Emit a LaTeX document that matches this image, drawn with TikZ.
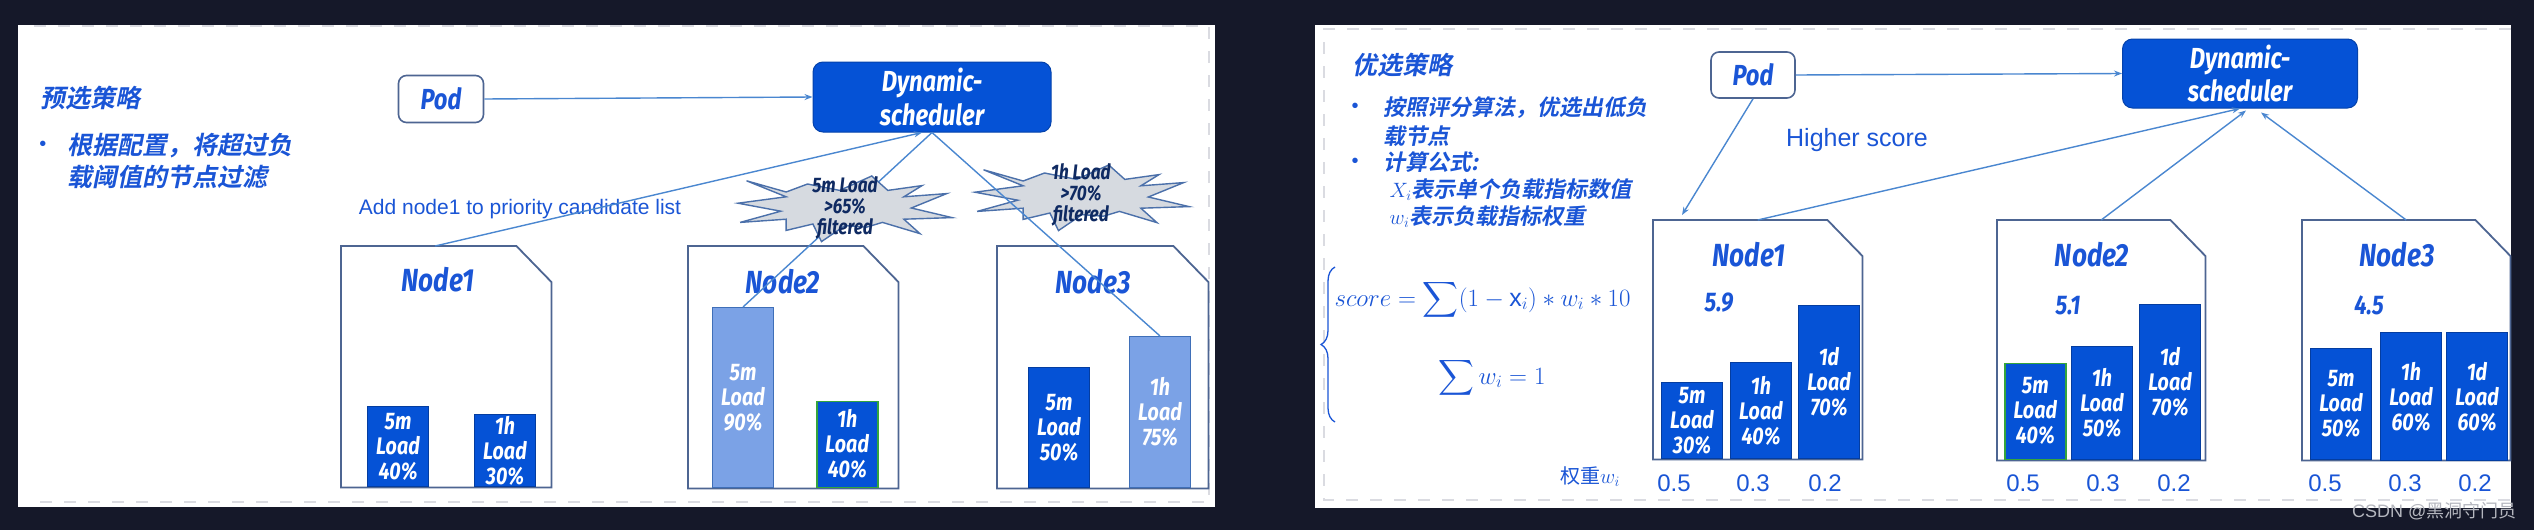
\documentclass[tikz,border=0pt]{standalone}
\usepackage{amsmath}
\usepackage{fontspec}
\setmainfont{Liberation Sans}
\newfontfamily\disp{Fira Sans}[FakeStretch=0.82]
\newfontfamily\cjk{Noto Sans CJK SC}
\newfontfamily\cjkb{Noto Sans CJK SC Bold}[FakeSlant=0.2]
\usetikzlibrary{arrows.meta,decorations.pathreplacing}

\definecolor{bgdark}{HTML}{151829}
\definecolor{dashgray}{HTML}{DADBE1}
\definecolor{textblue}{HTML}{1A55D6}
\definecolor{barblue}{HTML}{0552D6}
\definecolor{lightbar}{HTML}{7BA2E6}
\definecolor{lightbarline}{HTML}{3F6FB8}
\definecolor{boxline}{HTML}{4D6592}
\definecolor{linkblue}{HTML}{4A87D0}
\definecolor{hotgreen}{HTML}{35A53C}
\definecolor{starfill}{HTML}{D6DAE0}
\definecolor{starline}{HTML}{4B70AA}
\definecolor{starink}{HTML}{0F2A62}
\definecolor{markgray}{HTML}{B4B6BE}

\tikzset{
  dashrule/.style={draw=dashgray, line width=1.8pt, dash pattern=on 12pt off 12pt},
  podbox/.style={draw=boxline, line width=1.6pt, rounded corners=8pt, minimum width=85, minimum height=47,
    text=textblue, font=\disp\bfseries\itshape\fontsize{29}{31}\selectfont},
  schedbox/.style={fill=barblue, draw=barblue!80!black, line width=1pt, rounded corners=10pt, minimum width=238, minimum height=70,
    text=white, align=center, font=\disp\bfseries\itshape\fontsize{29}{33}\selectfont},
  nodebox/.style={draw=none, inner sep=0, anchor=north west},
  nodeline/.style={draw=boxline, line width=1.8pt},
  nodetitle/.style={text=textblue, font=\disp\bfseries\itshape\fontsize{32}{34}\selectfont},
  bar/.style={fill=barblue, draw=barblue!75!black, line width=1pt, anchor=south west, minimum width=61, inner sep=0,
    text=white, align=center, font=\disp\bfseries\itshape\fontsize{24}{25}\selectfont},
  lightbar/.style={bar, fill=lightbar, draw=lightbarline},
  hot/.style={draw=hotgreen, line width=1.5pt},
  link/.style={draw=linkblue, line width=1.4pt},
  arr/.style={link, -{Stealth[length=8pt,width=6pt]}},
  burst/.style={fill=starfill, draw=starline, line width=1.4pt},
  bursttext/.style={text=starink, align=center, font=\disp\bfseries\itshape\fontsize{21}{21}\selectfont},
  note/.style={text=textblue, font=\fontsize{21}{24}\selectfont},
  weight/.style={text=textblue, font=\fontsize{24}{26}\selectfont},
  score/.style={text=textblue, font=\disp\bfseries\itshape\fontsize{27}{28}\selectfont},
  heading/.style={text=textblue, anchor=west, font=\cjkb\fontsize{25}{30}\selectfont},
  dot/.style={text=textblue, font=\fontsize{20}{20}\selectfont},
  para/.style={text=textblue, align=left, anchor=west, font=\cjkb\fontsize{25}{32}\selectfont},
  formula/.style={text=textblue, font=\fontsize{25}{30}\selectfont},
  brace/.style={draw=textblue, line width=1.3pt, decorate, decoration={brace, amplitude=14pt}},
  wmark/.style={text=markgray, anchor=east, font=\fontsize{18}{20}\selectfont}
}

% clipped-corner outline around an (invisible) node box
\newcommand{\nodeoutline}[1]{\draw[nodeline] (#1.south west) |- ([xshift=-35pt]#1.north east)
  -- ([yshift=-36pt]#1.north east) -- (#1.south east) -- cycle;}
% explosion shape around a coordinate
\newcommand{\burst}[1]{\draw[burst, shift={(#1)}, xscale=107, yscale=32]
  (-1.00,-0.15) -- (-0.55,-0.35) -- (-0.92,-0.85) -- (-0.55,-0.50) -- (-0.35,-0.75) -- (-0.05,-0.55)
  -- (0.25,-1.00) -- (0.40,-0.55) -- (0.72,-0.70) -- (0.55,-0.35) -- (0.95,-0.45) -- (0.62,0.00)
  -- (1.00,0.30) -- (0.55,0.35) -- (0.70,0.80) -- (0.35,0.45) -- (0.20,0.60) -- (0.00,0.55)
  -- (-0.22,1.05) -- (-0.30,0.50) -- (-0.55,0.70) -- (-0.55,0.35) -- (-0.98,0.45) -- (-0.60,0.10) -- cycle;}

\begin{document}
\begin{tikzpicture}[x=1pt, y=-1pt]
  \useasboundingbox (0,0) rectangle (2534,530);
  \fill[bgdark] (0,0) rectangle (2534,530);

  % panels
  \fill[white] (18,25) rectangle (1215,507);
  \fill[white] (1315,25) rectangle (2511,508);
  \draw[dashrule] (34,26) -- (1209,26) -- (1209,502) -- (30,502);
  \draw[dashrule] (2511,29) -- (1324,29) -- (1324,500) -- (2511,500);

  % ---- left panel: filter ----
  \node[heading] (ftitle) at (37,98) {预选策略};
  \node[dot] (fdot1) at (43,146) {•};
  \node[para] (ftext) at (64,161) {根据配置，将超过负\\载阈值的节点过滤};

  \node[podbox] (LP) at (441,99) {Pod};
  \node[schedbox] (LS) at (932,97) {Dynamic-\\scheduler};

  % nodes
  \node[nodebox, minimum width=210, minimum height=241] (L1) at (341,246) {};
  \node[nodebox, minimum width=210, minimum height=242] (L2) at (688,246) {};
  \node[nodebox, minimum width=211, minimum height=242] (L3) at (997,246) {};
  \foreach \n in {L1,L2,L3} {\nodeoutline{\n}}
  \node[nodetitle] (L1t) at (438,280) {Node1};
  \node[nodetitle] (L2t) at (783,282) {Node2};
  \node[nodetitle] (L3t) at (1093,282) {Node3};

  % loads
  \node[bar, minimum height=80] (L1a) at (367,487) {5m\\Load\\40\%};
  \node[bar, minimum height=72] (L1b) at (474,487) {1h\\Load\\30\%};
  \node[lightbar, minimum height=180] (L2a) at (712,488) {5m\\Load\\90\%};
  \node[bar, hot, minimum height=86] (L2b) at (816,488) {1h\\Load\\40\%};
  \node[bar, minimum height=120] (L3a) at (1028,488) {5m\\Load\\50\%};
  \node[lightbar, minimum height=151] (L3b) at (1129,488) {1h\\Load\\75\%};

  \node[note] (addnote) at (520,209) {Add node1 to priority candidate list};

  % connections
  \coordinate (B2) at (1082,197);
  \burst{B2}
  \draw[arr] (LP.east) -- (LS.west);
  \draw[arr] ([xshift=-11pt]L1.north) -- ([xshift=-10pt]LS.south);
  \draw[link] (LS.south) -- (L2a.north);
  \draw[link] (LS.south) -- (L3b.north);
  \coordinate (B1) at (845,208);
  \burst{B1}
  \node[bursttext] (S1) at (B1) {5m Load\\>65\%\\filtered};
  \node[bursttext] (S2) at (1081,195) {1h Load\\>70\%\\filtered};

  % ---- right panel: score ----
  \node[heading] (ptitle) at (1349,65) {优选策略};
  \node[dot] (pdot1) at (1355,108) {•};
  \node[para, font=\cjkb\fontsize{22}{29}\selectfont] (ptext1) at (1380,122) {按照评分算法，优选出低负\\载节点};
  \node[dot] (pdot2) at (1355,163) {•};
  \node[para, font=\cjkb\fontsize{22}{27}\selectfont] (ptext2) at (1380,190)
    {计算公式:\\\hspace*{6pt}$X_i$表示单个负载指标数值\\\hspace*{6pt}$w_i$表示负载指标权重};

  \draw[brace] (1335,422) -- (1335,267);
  \node[formula, anchor=west] (f1) at (1331,300) {$\displaystyle score=\sum(1-\mathrm{x}_i)*w_i*10$};
  \node[formula] (f2) at (1492,378) {$\displaystyle\sum w_i=1$};
  \node[text=textblue, font=\cjk\fontsize{20}{22}\selectfont] (wl) at (1590,477) {权重$w_i$};

  \node[podbox, minimum width=84, minimum height=46] (RP) at (1753,75) {Pod};
  \node[schedbox, minimum width=235, minimum height=69] (RS) at (2240,73.5) {Dynamic-\\scheduler};
  \node[note, font=\fontsize{25}{28}\selectfont] (hnote) at (1857,140) {Higher score};

  % nodes
  \node[nodebox, minimum width=209, minimum height=239] (R1) at (1653,220) {};
  \node[nodebox, minimum width=208, minimum height=240] (R2) at (1997,220) {};
  \node[nodebox, minimum width=208, minimum height=240] (R3) at (2302,220) {};
  \foreach \n in {R1,R2,R3} {\nodeoutline{\n}}
  \node[nodetitle] (R1t) at (1749,255) {Node1};
  \node[nodetitle] (R2t) at (2092,255) {Node2};
  \node[nodetitle] (R3t) at (2397,255) {Node3};
  \node[score] (R1s) at (1719,303) {5.9};
  \node[score] (R2s) at (2068,306) {5.1};
  \node[score] (R3s) at (2369,305) {4.5};

  % loads
  \node[bar, minimum height=76] (R1a) at (1661,459) {5m\\Load\\30\%};
  \node[bar, minimum height=96] (R1b) at (1730,459) {1h\\Load\\40\%};
  \node[bar, minimum height=153] (R1c) at (1798,459) {1d\\Load\\70\%};
  \node[bar, hot, minimum height=96] (R2a) at (2004,460) {5m\\Load\\40\%};
  \node[bar, minimum height=113] (R2b) at (2071,460) {1h\\Load\\50\%};
  \node[bar, minimum height=155] (R2c) at (2139,460) {1d\\Load\\70\%};
  \node[bar, minimum height=111] (R3a) at (2310,460) {5m\\Load\\50\%};
  \node[bar, minimum height=128] (R3b) at (2380,461) {1h\\Load\\60\%};
  \node[bar, minimum height=128] (R3c) at (2446,461) {1d\\Load\\60\%};

  % weights
  \foreach \x/\w in {1674/0.5, 1753/0.3, 1825/0.2, 2023/0.5, 2103/0.3, 2174/0.2, 2325/0.5, 2405/0.3, 2475/0.2}
    \node[weight] at (\x,483) {\w};

  % connections
  \draw[arr] (RP.east) -- (RS.west);
  \draw[arr] (RP.south) -- ([xshift=29pt,yshift=5pt]R1.north west);
  \draw[arr] (R1.north) -- (RS.south);
  \draw[arr] (R2.north) -- ([xshift=6pt,yshift=-2pt]RS.south);
  \draw[arr] (R3.north) -- ([xshift=21pt,yshift=-4pt]RS.south);

  \node[wmark] (wm) at (2520,511) {CSDN @{\cjk 黑洞守门员}};
\end{tikzpicture}
\end{document}
